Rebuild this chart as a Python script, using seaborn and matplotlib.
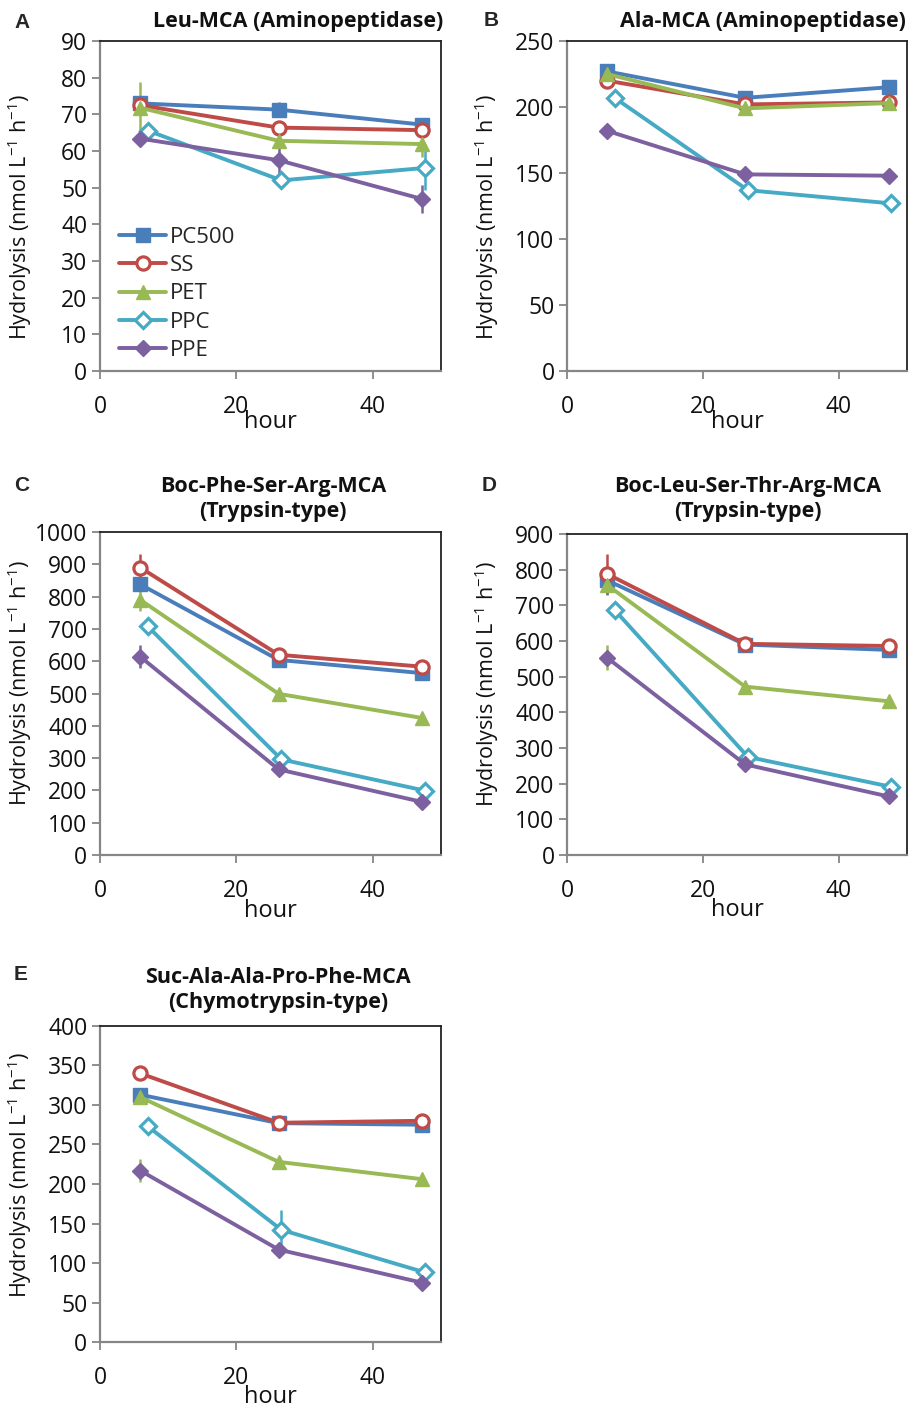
import matplotlib
matplotlib.use('Agg')
import matplotlib.pyplot as plt
import seaborn as sns
import pandas as pd

# series names and sampling times (PPC was read slightly later)
series = ['PC500', 'SS', 'PET', 'PPC', 'PPE']
hours = [5.9, 26.2, 47.3]
hours_ppc = [7.0, 26.6, 47.7]

# A - Leu-MCA
leu_mca = {'PC500': [73.0, 71.3, 67.2], 'SS': [72.5, 66.4, 65.7], 'PET': [71.8, 62.8, 61.9],
           'PPC': [65.6, 52.0, 55.4], 'PPE': [63.4, 57.5, 46.9]}
leu_mca_err = {'PC500': [0, 2, 0], 'SS': [0, 0, 0], 'PET': [7, 0, 3.5],
               'PPC': [0, 0, 6], 'PPE': [0, 4, 3.8]}

# B - Ala-MCA
ala_mca = {'PC500': [227, 207, 215], 'SS': [220, 202, 203.5], 'PET': [225, 199, 203],
           'PPC': [207, 137, 127], 'PPE': [182, 149, 148]}
ala_mca_err = {'PC500': [3, 0, 0], 'SS': [0, 0, 0], 'PET': [0, 0, 0],
               'PPC': [0, 0, 0], 'PPE': [0, 0, 0]}

# C - Boc-Phe-Ser-Arg-MCA
fsr_mca = {'PC500': [838, 604, 563], 'SS': [890, 620, 583], 'PET': [790, 499, 424],
           'PPC': [708, 296, 199], 'PPE': [614, 265, 164]}
fsr_mca_err = {'PC500': [0, 0, 0], 'SS': [42, 0, 0], 'PET': [35, 0, 0],
               'PPC': [0, 0, 0], 'PPE': [35, 0, 0]}

# D - Boc-Leu-Ser-Thr-Arg-MCA
lstr_mca = {'PC500': [770, 590, 575], 'SS': [788, 592, 586], 'PET': [757, 472, 431],
            'PPC': [687, 275, 191], 'PPE': [553, 254, 164]}
lstr_mca_err = {'PC500': [40, 0, 0], 'SS': [55, 0, 0], 'PET': [0, 0, 0],
                'PPC': [0, 0, 0], 'PPE': [35, 0, 0]}

# E - Suc-Ala-Ala-Pro-Phe-MCA
aapf_mca = {'PC500': [313, 277, 275], 'SS': [340, 277.5, 280], 'PET': [310, 228, 206],
            'PPC': [273, 142, 88], 'PPE': [217, 117, 75]}
aapf_mca_err = {'PC500': [0, 0, 0], 'SS': [0, 0, 0], 'PET': [0, 0, 0],
                'PPC': [0, 25, 0], 'PPE': [14, 0, 0]}

colors = {'PC500': '#4A7EBB', 'SS': '#BE4B48', 'PET': '#98B954', 'PPC': '#46AAC5', 'PPE': '#7D60A0'}
markers = {'PC500': 's', 'SS': 'o', 'PET': '^', 'PPC': 'D', 'PPE': 'D'}
msize = {'PC500': 10, 'SS': 9.5, 'PET': 10.5, 'PPC': 8, 'PPE': 8.5}
hollow = ['SS', 'PPC']

sns.set_style('white')
plt.rcParams['font.family'] = ['Open Sans', 'DejaVu Sans']
plt.rcParams['mathtext.default'] = 'regular'

fig = plt.figure(figsize=(9.09, 14.06), dpi=100)

# panel: letter, title, data, errors, ymax, ystep, axes rect, title pos, letter pos, ylabel y
panels = [
    ('A', 'Leu-MCA (Aminopeptidase)', leu_mca, leu_mca_err, 90, 10,
     [0.110, 0.7361, 0.375, 0.2347], (0.58, 1.058), (14, 22), 0.467, None),
    ('B', 'Ala-MCA (Aminopeptidase)', ala_mca, ala_mca_err, 250, 50,
     [0.6238, 0.7361, 0.374, 0.2347], (0.576, 1.058), (484, 20), 0.467, None),
    ('C', 'Boc-Phe-Ser-Arg-MCA\n(Trypsin-type)', fsr_mca, fsr_mca_err, 1000, 100,
     [0.110, 0.3919, 0.375, 0.2297], (0.507, 1.102), (14, 485), 0.532, None),
    ('D', 'Boc-Leu-Ser-Thr-Arg-MCA\n(Trypsin-type)', lstr_mca, lstr_mca_err, 900, 100,
     [0.6238, 0.3919, 0.374, 0.2283], (0.532, 1.109), (482, 485), 0.533, 'PET'),
    ('E', 'Suc-Ala-Ala-Pro-Phe-MCA\n(Chymotrypsin-type)', aapf_mca, aapf_mca_err, 400, 50,
     [0.110, 0.0455, 0.375, 0.2248], (0.522, 1.114), (14, 975), 0.528, 'PET'),
]

for letter, title, vals, errs, ymax, ystep, rect, tpos, lpos, ylab_y, ppe_err_col in panels:
    ax = fig.add_axes(rect)
    rows = []
    for s in series:
        xs = hours_ppc if s == 'PPC' else hours
        for h, v, e in zip(xs, vals[s], errs[s]):
            rows.append({'hour': h, 'value': v, 'err': e, 'series': s})
    df = pd.DataFrame(rows)

    for s in series:
        sub = df[df['series'] == s]
        ecol = colors[s]
        if s == 'PPE' and ppe_err_col:
            ecol = colors[ppe_err_col]
        e = sub[sub['err'] > 0]
        if len(e):
            ax.errorbar(e['hour'], e['value'], yerr=e['err'], fmt='none',
                        ecolor=ecol, elinewidth=1.8, capsize=0, zorder=2)
        sns.lineplot(data=sub, x='hour', y='value', ax=ax, color=colors[s],
                     linewidth=2.8, marker=markers[s], markersize=msize[s],
                     markerfacecolor='white' if s in hollow else colors[s],
                     markeredgecolor=colors[s], markeredgewidth=2.3 if s in hollow else 1,
                     errorbar=None, label=s, legend=False, zorder=3)

    ax.set_xlim(0, 50)
    ax.set_ylim(0, ymax)
    ax.set_xticks([0, 20, 40])
    ax.set_yticks(range(0, ymax + 1, ystep))
    ax.tick_params(axis='both', which='major', direction='out', length=6, width=1.3,
                   color='#868686', labelsize=16.5, labelcolor='#111111', left=True, bottom=True)
    ax.tick_params(axis='x', pad=11)
    ax.tick_params(axis='y', pad=3)
    for side in ['left', 'bottom']:
        ax.spines[side].set_color('#868686')
        ax.spines[side].set_linewidth(1.6)
    for side in ['top', 'right']:
        ax.spines[side].set_color('#222222')
        ax.spines[side].set_linewidth(1.3)

    ax.set_xlabel('hour', fontsize=17, color='#111111')
    ax.xaxis.set_label_coords(0.5, -0.118 if letter in 'AB' else -0.135)
    ax.set_ylabel(r'Hydrolysis (nmol L$^{-1}$ h$^{-1}$)', fontsize=15.5, color='#111111')
    ax.yaxis.set_label_coords(-0.195, ylab_y)

    ax.text(tpos[0], tpos[1], title, transform=ax.transAxes, ha='center', va='center',
            fontsize=15.5, fontweight='bold', linespacing=1.25, color='#111111')
    fig.text(lpos[0] / 909, 1 - lpos[1] / 1406, letter, ha='left', va='center',
             fontsize=15, fontweight='bold', family='Liberation Sans')

    if letter == 'A':
        handles, labels = ax.get_legend_handles_labels()
        ax.legend(handles, labels, loc='lower left', bbox_to_anchor=(0.027, 0.0),
                  frameon=False, fontsize=16, handlelength=2.1, handletextpad=0.2,
                  labelspacing=0.33, borderaxespad=0.05)

fig.savefig('out.png', dpi=100)
